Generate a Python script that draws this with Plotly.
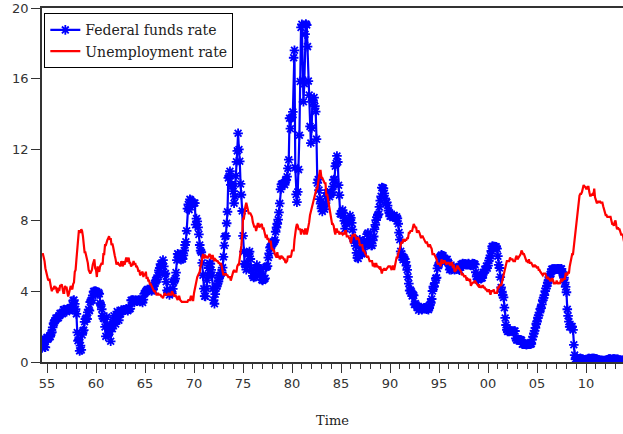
import pandas as pd
import plotly.graph_objects as go

# -----------------------------
# Data (monthly, Jul 1954 - Dec 2013)
# -----------------------------
START = "1954-07-01"

fed_funds = [
    0.80, 1.22, 1.06, 0.85, 0.83, 1.28,  # 1954 (Jul-Dec)
    1.39, 1.29, 1.35, 1.43, 1.43, 1.64, 1.68, 1.96, 2.18, 2.24, 2.35, 2.48,  # 1955
    2.45, 2.50, 2.50, 2.62, 2.75, 2.71, 2.75, 2.73, 2.95, 2.96, 2.88, 2.94,  # 1956
    2.84, 3.00, 2.96, 3.00, 3.00, 3.00, 2.99, 3.24, 3.47, 3.50, 3.28, 2.98,  # 1957
    2.72, 1.67, 1.20, 1.26, 0.63, 0.93, 0.68, 1.53, 1.76, 1.80, 2.27, 2.42,  # 1958
    2.48, 2.43, 2.80, 2.96, 2.90, 3.39, 3.47, 3.50, 3.76, 3.98, 4.00, 3.99,  # 1959
    3.99, 3.97, 3.84, 3.92, 3.85, 3.32, 3.23, 2.98, 2.60, 2.47, 2.44, 1.98,  # 1960
    1.45, 2.54, 2.02, 1.49, 1.98, 1.73, 1.17, 2.00, 1.88, 2.26, 2.61, 2.33,  # 1961
    2.15, 2.37, 2.85, 2.78, 2.36, 2.68, 2.71, 2.93, 2.90, 2.90, 2.94, 2.93,  # 1962
    2.92, 3.00, 2.98, 2.90, 3.00, 2.99, 3.02, 3.49, 3.48, 3.50, 3.48, 3.38,  # 1963
    3.48, 3.48, 3.43, 3.47, 3.50, 3.50, 3.42, 3.50, 3.45, 3.36, 3.52, 3.85,  # 1964
    3.90, 3.98, 4.04, 4.09, 4.10, 4.04, 4.09, 4.12, 4.01, 4.08, 4.10, 4.32,  # 1965
    4.42, 4.60, 4.65, 4.67, 4.90, 5.17, 5.30, 5.53, 5.40, 5.53, 5.76, 5.40,  # 1966
    4.94, 5.00, 4.53, 4.05, 3.94, 3.98, 3.79, 3.90, 3.99, 3.88, 4.13, 4.51,  # 1967
    4.61, 4.71, 5.05, 5.76, 6.11, 6.07, 6.02, 6.03, 5.78, 5.91, 5.82, 6.02,  # 1968
    6.30, 6.61, 6.79, 7.41, 8.67, 8.90, 8.61, 9.19, 9.15, 9.00, 8.85, 8.97,  # 1969
    8.98, 8.98, 7.76, 8.10, 7.95, 7.61, 7.21, 6.61, 6.29, 6.20, 5.60, 4.90,  # 1970
    4.14, 3.72, 3.71, 4.15, 4.63, 4.91, 5.31, 5.57, 5.55, 5.20, 4.91, 4.14,  # 1971
    3.50, 3.29, 3.83, 4.17, 4.27, 4.46, 4.55, 4.80, 4.87, 5.04, 5.06, 5.33,  # 1972
    5.94, 6.58, 7.09, 7.12, 7.84, 8.49, 10.40, 10.50, 10.78, 10.01, 10.03, 9.95,  # 1973
    9.65, 8.97, 9.35, 10.51, 11.31, 11.93, 12.92, 12.01, 11.34, 10.06, 9.45, 8.53,  # 1974
    7.13, 6.24, 5.54, 5.49, 5.22, 5.55, 6.10, 6.14, 6.24, 5.82, 5.22, 5.20,  # 1975
    4.87, 4.77, 4.84, 4.82, 5.29, 5.48, 5.31, 5.29, 5.25, 5.02, 4.95, 4.65,  # 1976
    4.61, 4.68, 4.69, 4.73, 5.35, 5.39, 5.42, 5.90, 6.14, 6.47, 6.51, 6.56,  # 1977
    6.70, 6.78, 6.79, 6.89, 7.36, 7.60, 7.81, 8.04, 8.45, 8.96, 9.76, 10.03,  # 1978
    10.07, 10.06, 10.09, 10.01, 10.24, 10.29, 10.47, 10.94, 11.43, 13.77, 13.18, 13.78,  # 1979
    13.82, 14.13, 17.19, 17.61, 10.98, 9.47, 9.03, 9.61, 10.87, 12.81, 15.85, 18.90,  # 1980
    19.08, 15.93, 14.70, 15.72, 18.52, 19.10, 19.04, 17.82, 15.87, 15.08, 13.31, 12.37,  # 1981
    13.22, 14.78, 14.68, 14.94, 14.45, 14.15, 12.59, 10.12, 10.31, 9.71, 9.20, 8.95,  # 1982
    8.68, 8.51, 8.77, 8.80, 8.63, 8.98, 9.37, 9.56, 9.45, 9.48, 9.34, 9.47,  # 1983
    9.56, 9.59, 9.91, 10.29, 10.32, 11.06, 11.23, 11.64, 11.30, 9.99, 9.43, 8.38,  # 1984
    8.35, 8.50, 8.58, 8.27, 7.97, 7.53, 7.88, 7.90, 7.92, 7.99, 8.05, 8.27,  # 1985
    8.14, 7.86, 7.48, 6.99, 6.85, 6.92, 6.56, 6.17, 5.89, 5.85, 6.04, 6.91,  # 1986
    6.43, 6.10, 6.13, 6.37, 6.85, 6.73, 6.58, 6.73, 7.22, 7.29, 6.69, 6.77,  # 1987
    6.83, 6.58, 6.58, 6.87, 7.09, 7.51, 7.75, 8.01, 8.19, 8.30, 8.35, 8.76,  # 1988
    9.12, 9.36, 9.85, 9.84, 9.81, 9.53, 9.24, 8.99, 9.02, 8.84, 8.55, 8.45,  # 1989
    8.23, 8.24, 8.28, 8.26, 8.18, 8.29, 8.15, 8.13, 8.20, 8.11, 7.81, 7.31,  # 1990
    6.91, 6.25, 6.12, 5.91, 5.78, 5.90, 5.82, 5.66, 5.45, 5.21, 4.81, 4.43,  # 1991
    4.03, 4.06, 3.98, 3.73, 3.82, 3.76, 3.25, 3.30, 3.22, 3.10, 3.09, 2.92,  # 1992
    3.02, 3.03, 3.07, 2.96, 3.00, 3.04, 3.06, 3.03, 3.09, 2.99, 3.02, 2.96,  # 1993
    3.05, 3.25, 3.34, 3.56, 4.01, 4.25, 4.26, 4.47, 4.73, 4.76, 5.29, 5.45,  # 1994
    5.53, 5.92, 5.98, 6.05, 6.01, 6.00, 5.85, 5.74, 5.80, 5.76, 5.80, 5.60,  # 1995
    5.56, 5.22, 5.31, 5.22, 5.24, 5.27, 5.40, 5.22, 5.30, 5.24, 5.31, 5.29,  # 1996
    5.25, 5.19, 5.39, 5.51, 5.50, 5.56, 5.52, 5.54, 5.54, 5.50, 5.52, 5.50,  # 1997
    5.56, 5.51, 5.49, 5.45, 5.49, 5.56, 5.54, 5.55, 5.51, 5.07, 4.83, 4.68,  # 1998
    4.63, 4.76, 4.81, 4.74, 4.74, 4.76, 4.99, 5.07, 5.22, 5.20, 5.42, 5.30,  # 1999
    5.45, 5.73, 5.85, 6.02, 6.27, 6.53, 6.54, 6.50, 6.52, 6.51, 6.51, 6.40,  # 2000
    5.98, 5.49, 5.31, 4.80, 4.21, 3.97, 3.77, 3.65, 3.07, 2.49, 2.09, 1.82,  # 2001
    1.73, 1.74, 1.73, 1.75, 1.75, 1.75, 1.73, 1.74, 1.75, 1.75, 1.34, 1.24,  # 2002
    1.24, 1.26, 1.25, 1.26, 1.26, 1.22, 1.01, 1.03, 1.01, 1.01, 1.00, 0.98,  # 2003
    1.00, 1.01, 1.00, 1.00, 1.00, 1.03, 1.26, 1.43, 1.61, 1.76, 1.93, 2.16,  # 2004
    2.28, 2.50, 2.63, 2.79, 3.00, 3.04, 3.26, 3.50, 3.62, 3.78, 4.00, 4.16,  # 2005
    4.29, 4.49, 4.59, 4.79, 4.94, 4.99, 5.24, 5.25, 5.25, 5.25, 5.25, 5.24,  # 2006
    5.25, 5.26, 5.26, 5.25, 5.25, 5.25, 5.26, 5.02, 4.94, 4.76, 4.49, 4.24,  # 2007
    3.94, 2.98, 2.61, 2.28, 1.98, 2.00, 2.01, 2.00, 1.81, 0.97, 0.39, 0.16,  # 2008
    0.15, 0.22, 0.18, 0.15, 0.18, 0.21, 0.16, 0.16, 0.15, 0.12, 0.12, 0.12,  # 2009
    0.11, 0.13, 0.16, 0.20, 0.20, 0.18, 0.18, 0.19, 0.19, 0.19, 0.19, 0.18,  # 2010
    0.17, 0.16, 0.14, 0.10, 0.09, 0.09, 0.07, 0.10, 0.08, 0.07, 0.08, 0.07,  # 2011
    0.08, 0.10, 0.13, 0.14, 0.16, 0.16, 0.16, 0.13, 0.14, 0.16, 0.16, 0.16,  # 2012
    0.14, 0.15, 0.14, 0.15, 0.11, 0.09, 0.09, 0.08, 0.08, 0.09, 0.08, 0.09,  # 2013
]

unemployment = [
    6.1, 6.1, 5.9, 5.7, 5.3, 5.0,  # 1954 (Jul-Dec)
    4.9, 4.7, 4.6, 4.7, 4.3, 4.2, 4.0, 4.2, 4.1, 4.3, 4.2, 4.2,  # 1955
    4.0, 3.9, 4.2, 4.0, 4.3, 4.3, 4.4, 4.1, 3.9, 3.9, 4.3, 4.2,  # 1956
    4.2, 3.9, 3.7, 3.9, 4.1, 4.3, 4.2, 4.1, 4.4, 4.5, 5.1, 5.2,  # 1957
    5.8, 6.4, 6.7, 7.4, 7.4, 7.3, 7.5, 7.4, 7.1, 6.7, 6.2, 6.2,  # 1958
    6.0, 5.9, 5.6, 5.2, 5.1, 5.0, 5.1, 5.2, 5.5, 5.7, 5.8, 5.3,  # 1959
    5.2, 4.8, 5.4, 5.2, 5.1, 5.4, 5.5, 5.6, 5.5, 6.1, 6.1, 6.6,  # 1960
    6.6, 6.9, 6.9, 7.0, 7.1, 6.9, 7.0, 6.6, 6.7, 6.5, 6.1, 6.0,  # 1961
    5.8, 5.5, 5.6, 5.6, 5.5, 5.5, 5.4, 5.7, 5.6, 5.4, 5.7, 5.5,  # 1962
    5.7, 5.9, 5.7, 5.7, 5.9, 5.6, 5.6, 5.4, 5.5, 5.5, 5.7, 5.5,  # 1963
    5.6, 5.4, 5.4, 5.3, 5.1, 5.2, 4.9, 5.0, 5.1, 5.1, 4.8, 5.0,  # 1964
    4.9, 5.1, 4.7, 4.8, 4.6, 4.6, 4.4, 4.4, 4.3, 4.2, 4.1, 4.0,  # 1965
    4.0, 3.8, 3.8, 3.8, 3.9, 3.8, 3.8, 3.8, 3.7, 3.7, 3.6, 3.8,  # 1966
    3.9, 3.8, 3.8, 3.8, 3.8, 3.9, 3.8, 3.8, 3.8, 4.0, 3.9, 3.8,  # 1967
    3.7, 3.8, 3.7, 3.5, 3.5, 3.7, 3.7, 3.5, 3.4, 3.4, 3.4, 3.4,  # 1968
    3.4, 3.4, 3.4, 3.4, 3.4, 3.5, 3.5, 3.5, 3.7, 3.7, 3.5, 3.5,  # 1969
    3.9, 4.2, 4.4, 4.6, 4.8, 4.9, 5.0, 5.1, 5.4, 5.5, 5.9, 6.1,  # 1970
    5.9, 5.9, 6.0, 5.9, 5.9, 5.9, 6.0, 6.1, 6.0, 5.8, 6.0, 6.0,  # 1971
    5.8, 5.7, 5.8, 5.7, 5.7, 5.7, 5.6, 5.6, 5.5, 5.6, 5.3, 5.2,  # 1972
    4.9, 5.0, 4.9, 5.0, 4.9, 4.9, 4.8, 4.8, 4.8, 4.6, 4.8, 4.9,  # 1973
    5.1, 5.2, 5.1, 5.1, 5.1, 5.4, 5.5, 5.5, 5.9, 6.0, 6.6, 7.2,  # 1974
    8.1, 8.1, 8.6, 8.8, 9.0, 8.8, 8.6, 8.4, 8.4, 8.4, 8.3, 8.2,  # 1975
    7.9, 7.7, 7.6, 7.7, 7.4, 7.6, 7.8, 7.8, 7.6, 7.7, 7.8, 7.8,  # 1976
    7.5, 7.6, 7.4, 7.2, 7.0, 7.2, 6.9, 7.0, 6.8, 6.8, 6.8, 6.4,  # 1977
    6.4, 6.3, 6.3, 6.1, 6.0, 5.9, 6.2, 5.9, 6.0, 5.8, 5.9, 6.0,  # 1978
    5.9, 5.9, 5.8, 5.8, 5.6, 5.7, 5.7, 6.0, 5.9, 6.0, 5.9, 6.0,  # 1979
    6.3, 6.3, 6.3, 6.9, 7.5, 7.6, 7.8, 7.7, 7.5, 7.5, 7.5, 7.2,  # 1980
    7.5, 7.4, 7.4, 7.2, 7.5, 7.5, 7.2, 7.4, 7.6, 7.9, 8.3, 8.5,  # 1981
    8.6, 8.9, 9.0, 9.3, 9.4, 9.6, 9.8, 9.8, 10.1, 10.4, 10.8, 10.8,  # 1982
    10.4, 10.4, 10.3, 10.2, 10.1, 10.1, 9.4, 9.5, 9.2, 8.8, 8.5, 8.3,  # 1983
    8.0, 7.8, 7.8, 7.7, 7.4, 7.2, 7.5, 7.5, 7.3, 7.4, 7.2, 7.3,  # 1984
    7.3, 7.2, 7.2, 7.3, 7.2, 7.4, 7.4, 7.1, 7.1, 7.1, 7.0, 7.0,  # 1985
    6.7, 7.2, 7.2, 7.1, 7.2, 7.2, 7.0, 6.9, 7.0, 7.0, 6.9, 6.6,  # 1986
    6.6, 6.6, 6.6, 6.3, 6.3, 6.2, 6.1, 6.0, 5.9, 6.0, 5.8, 5.7,  # 1987
    5.7, 5.7, 5.7, 5.4, 5.6, 5.4, 5.4, 5.6, 5.4, 5.4, 5.3, 5.3,  # 1988
    5.4, 5.2, 5.0, 5.2, 5.2, 5.3, 5.2, 5.2, 5.3, 5.3, 5.4, 5.4,  # 1989
    5.4, 5.3, 5.2, 5.4, 5.4, 5.2, 5.5, 5.7, 5.9, 5.9, 6.2, 6.3,  # 1990
    6.4, 6.6, 6.8, 6.7, 6.9, 6.9, 6.8, 6.9, 6.9, 7.0, 7.0, 7.3,  # 1991
    7.3, 7.4, 7.4, 7.4, 7.6, 7.8, 7.7, 7.6, 7.6, 7.3, 7.4, 7.4,  # 1992
    7.3, 7.1, 7.0, 7.1, 7.1, 7.0, 6.9, 6.8, 6.7, 6.8, 6.6, 6.5,  # 1993
    6.6, 6.6, 6.5, 6.4, 6.1, 6.1, 6.1, 6.0, 5.9, 5.8, 5.6, 5.5,  # 1994
    5.6, 5.4, 5.4, 5.8, 5.6, 5.6, 5.7, 5.7, 5.6, 5.5, 5.6, 5.6,  # 1995
    5.6, 5.5, 5.5, 5.6, 5.6, 5.3, 5.5, 5.1, 5.2, 5.2, 5.4, 5.4,  # 1996
    5.3, 5.2, 5.2, 5.1, 4.9, 5.0, 4.9, 4.8, 4.9, 4.7, 4.6, 4.7,  # 1997
    4.6, 4.6, 4.7, 4.3, 4.4, 4.5, 4.5, 4.5, 4.6, 4.5, 4.4, 4.4,  # 1998
    4.3, 4.4, 4.2, 4.3, 4.2, 4.3, 4.3, 4.2, 4.2, 4.1, 4.1, 4.0,  # 1999
    4.0, 4.1, 4.0, 3.8, 4.0, 4.0, 4.0, 4.1, 3.9, 3.9, 3.9, 3.9,  # 2000
    4.2, 4.2, 4.3, 4.4, 4.3, 4.5, 4.6, 4.9, 5.0, 5.3, 5.5, 5.7,  # 2001
    5.7, 5.7, 5.7, 5.9, 5.8, 5.8, 5.8, 5.7, 5.7, 5.7, 5.9, 6.0,  # 2002
    5.8, 5.9, 5.9, 6.0, 6.1, 6.3, 6.2, 6.1, 6.1, 6.0, 5.8, 5.7,  # 2003
    5.7, 5.6, 5.8, 5.6, 5.6, 5.6, 5.5, 5.4, 5.4, 5.5, 5.4, 5.4,  # 2004
    5.3, 5.4, 5.2, 5.2, 5.1, 5.0, 5.0, 4.9, 5.0, 5.0, 5.0, 4.9,  # 2005
    4.7, 4.8, 4.7, 4.7, 4.6, 4.6, 4.7, 4.7, 4.5, 4.4, 4.5, 4.4,  # 2006
    4.6, 4.5, 4.4, 4.5, 4.4, 4.6, 4.7, 4.6, 4.7, 4.7, 4.7, 5.0,  # 2007
    5.0, 4.9, 5.1, 5.0, 5.4, 5.6, 5.8, 6.1, 6.1, 6.5, 6.8, 7.3,  # 2008
    7.8, 8.3, 8.7, 9.0, 9.4, 9.5, 9.5, 9.6, 9.8, 10.0, 9.9, 9.9,  # 2009
    9.8, 9.8, 9.9, 9.9, 9.6, 9.4, 9.4, 9.5, 9.5, 9.4, 9.8, 9.3,  # 2010
    9.1, 9.0, 9.0, 9.1, 9.0, 9.1, 9.0, 9.0, 9.0, 8.8, 8.6, 8.5,  # 2011
    8.3, 8.3, 8.2, 8.2, 8.2, 8.2, 8.2, 8.0, 7.8, 7.8, 7.7, 7.9,  # 2012
    8.0, 7.7, 7.5, 7.6, 7.5, 7.5, 7.3, 7.2, 7.2, 7.2, 6.9, 6.7,  # 2013
]

tick_years = list(range(1955, 2015, 5))
tick_labels = ["55", "60", "65", "70", "75", "80", "85", "90", "95", "00", "05", "10"]
y_ticks = [0, 4, 8, 12, 16, 20]

assert len(fed_funds) == len(unemployment)
dates = pd.date_range(START, periods=len(fed_funds), freq="MS")

# -----------------------------
# Figure
# -----------------------------
AXIS_COLOR = "#333333"

fig = go.Figure()
fig.add_trace(go.Scatter(
    x=dates, y=fed_funds, name="Federal funds rate",
    mode="lines+markers",
    line=dict(color="#0000ff", width=2.2),
    marker=dict(symbol="asterisk-open", size=8, color="#0000ff",
                line=dict(color="#0000ff", width=1.8)),
))
fig.add_trace(go.Scatter(
    x=dates, y=unemployment, name="Unemployment rate",
    mode="lines",
    line=dict(color="#ff0000", width=2.2),
))

fig.update_layout(
    width=623, height=434,
    margin=dict(l=42, r=0, t=8, b=72),
    paper_bgcolor="white", plot_bgcolor="white",
    showlegend=True,
    legend=dict(
        x=0.004, y=0.985, xanchor="left", yanchor="top",
        bgcolor="white", bordercolor="#000000", borderwidth=1,
        font=dict(family="DejaVu Serif", size=14, color="#222222"),
        tracegroupgap=0, entrywidth=190,
    ),
    font=dict(family="DejaVu Sans", size=13, color=AXIS_COLOR),
)

fig.update_xaxes(
    range=["1954-06-28", "2013-10-08"],
    tickvals=[f"{y}-01-01" for y in tick_years],
    ticktext=tick_labels,
    ticks="outside", ticklen=9, tickwidth=1, tickcolor=AXIS_COLOR,
    minor=dict(dtick="M12", tick0="1955-01-01", ticks="outside",
               ticklen=5, tickcolor=AXIS_COLOR),
    showline=True, linecolor=AXIS_COLOR, linewidth=1.5, mirror=True,
    showgrid=False, zeroline=False,
    tickfont=dict(family="DejaVu Sans", size=13, color=AXIS_COLOR),
    title=dict(text="Time", standoff=26,
               font=dict(family="DejaVu Serif", size=13, color="#222222")),
)
fig.update_yaxes(
    range=[0, 20],
    tickvals=y_ticks,
    ticks="outside", ticklen=9, tickwidth=1, tickcolor=AXIS_COLOR,
    showline=True, linecolor=AXIS_COLOR, linewidth=1.5,
    showgrid=False, zeroline=False,
    tickfont=dict(family="DejaVu Sans", size=13, color=AXIS_COLOR),
)

# body has a default 8px margin; drop it so the figure sits at the window corner
fig.write_html(
    "out.html",
    config={"displayModeBar": False},
    post_script="document.body.style.margin='0px';",
)
